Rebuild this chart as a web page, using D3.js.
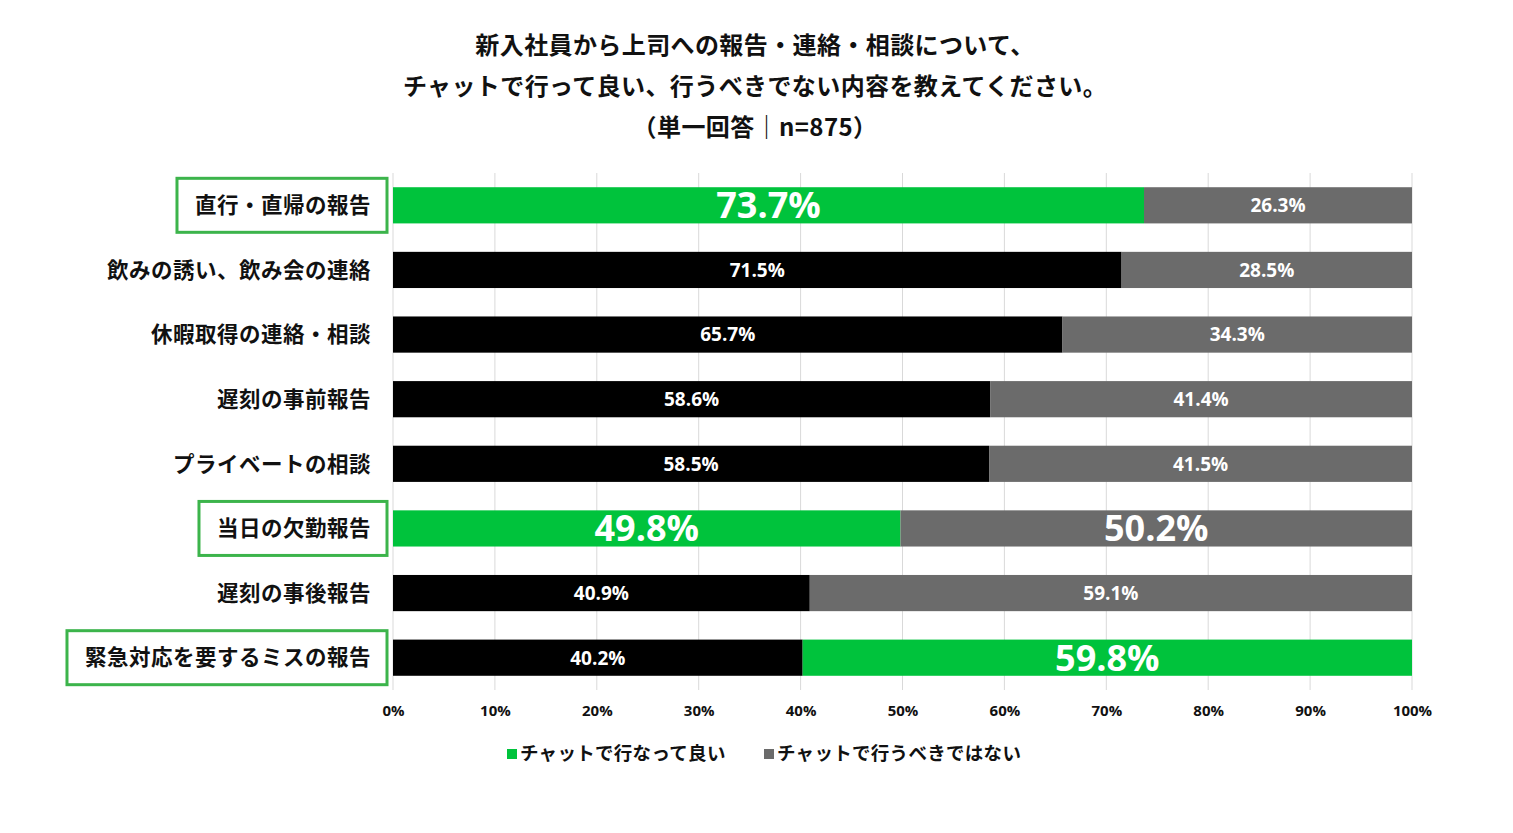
<!DOCTYPE html>
<html>
<head>
<meta charset="utf-8">
<script src="https://cdn.jsdelivr.net/npm/d3@7"></script>
<style>
  body { margin: 0; background: #fff; }
  svg { display: block; }
</style>
</head>
<body>
<div id="chart"></div>
<script>
// data
const categories = [
  "直行・直帰の報告",
  "飲みの誘い、飲み会の連絡",
  "休暇取得の連絡・相談",
  "遅刻の事前報告",
  "プライベートの相談",
  "当日の欠勤報告",
  "遅刻の事後報告",
  "緊急対応を要するミスの報告"
];
const goodValues = [73.7, 71.5, 65.7, 58.6, 58.5, 49.8, 40.9, 40.2];
const notValues  = [26.3, 28.5, 34.3, 41.4, 41.5, 50.2, 59.1, 59.8];
// which segment is emphasised (green / big label): "good", "not", "both", or ""
const highlight = ["good", "", "", "", "", "both", "", "not"];
const boxed     = [true, false, false, false, false, true, false, true];
const seriesNames = ["チャットで行なって良い", "チャットで行うべきではない"];
const xTicks = [0, 10, 20, 30, 40, 50, 60, 70, 80, 90, 100];
const titleLines = [
  "新入社員から上司への報告・連絡・相談について、",
  "チャットで行って良い、行うべきでない内容を教えてください。",
  "（単一回答｜n=875）"
];

const W = 1513, H = 833;
const margin = { top: 173, left: 393, right: 101, bottom: 143 };
const GREEN = "#00c33c", GRAY = "#6b6b6b", BLACK = "#000000";
const jp = "'Noto Sans CJK JP', 'Noto Sans', sans-serif";
const num = "'Liberation Sans Narrow', 'Open Sans', 'Noto Sans CJK JP', sans-serif";

const svg = d3.select("#chart").append("svg")
  .attr("width", W).attr("height", H);

// title
svg.append("g").selectAll("text")
  .data(titleLines).enter().append("text")
  .attr("x", 755)
  .attr("y", (d, i) => 54 + i * 41)
  .attr("text-anchor", "middle")
  .attr("font-family", jp)
  .attr("font-weight", "bold")
  .attr("font-size", 24)
  .attr("letter-spacing", 0.4)
  .attr("fill", "#111")
  .text(d => d);

const x = d3.scaleLinear().domain([0, 100]).range([margin.left, W - margin.right]);
const y = d3.scaleBand().domain(categories)
  .range([margin.top, H - margin.bottom]).paddingInner(0.44).paddingOuter(0.22);

// gridlines
svg.append("g").selectAll("line")
  .data(xTicks).enter().append("line")
  .attr("x1", d => x(d)).attr("x2", d => x(d))
  .attr("y1", margin.top).attr("y2", H - margin.bottom)
  .attr("stroke", "#d9d9d9").attr("stroke-width", 1);

// x axis labels
const xAxis = d3.axisBottom(x).tickValues(xTicks).tickSize(0).tickPadding(15)
  .tickFormat(d => d + "%");
svg.append("g")
  .attr("transform", `translate(0,${H - margin.bottom})`)
  .call(xAxis)
  .call(g => g.select(".domain").remove())
  .selectAll("text")
  .attr("font-family", num)
  .attr("font-weight", "bold")
  .attr("font-size", 15)
  .attr("fill", "#111");

// bars
const rows = svg.append("g").selectAll("g")
  .data(categories).enter().append("g")
  .attr("transform", d => `translate(0,${y(d)})`);

rows.append("rect")
  .attr("x", x(0))
  .attr("width", (d, i) => x(goodValues[i]) - x(0))
  .attr("height", y.bandwidth())
  .attr("fill", (d, i) => (highlight[i] === "good" || highlight[i] === "both") ? GREEN : BLACK);

rows.append("rect")
  .attr("x", (d, i) => x(goodValues[i]))
  .attr("width", (d, i) => x(100) - x(goodValues[i]))
  .attr("height", y.bandwidth())
  .attr("fill", (d, i) => highlight[i] === "not" ? GREEN : GRAY);

const big = (i, s) => highlight[i] === "both" || highlight[i] === s;

rows.append("text")
  .attr("x", (d, i) => (x(0) + x(goodValues[i])) / 2)
  .attr("y", y.bandwidth() / 2)
  .attr("dy", "0.36em")
  .attr("text-anchor", "middle")
  .attr("font-family", num)
  .attr("font-weight", "bold")
  .attr("font-size", (d, i) => big(i, "good") ? 36 : 19)
  .attr("fill", "#fff")
  .text((d, i) => goodValues[i].toFixed(1) + "%");

rows.append("text")
  .attr("x", (d, i) => (x(goodValues[i]) + x(100)) / 2)
  .attr("y", y.bandwidth() / 2)
  .attr("dy", "0.36em")
  .attr("text-anchor", "middle")
  .attr("font-family", num)
  .attr("font-weight", "bold")
  .attr("font-size", (d, i) => big(i, "not") ? 36 : 19)
  .attr("fill", "#fff")
  .text((d, i) => notValues[i].toFixed(1) + "%");

// category labels
const labels = rows.append("text")
  .attr("x", margin.left - 22)
  .attr("y", y.bandwidth() / 2)
  .attr("dy", "0.36em")
  .attr("text-anchor", "end")
  .attr("font-family", jp)
  .attr("font-weight", "bold")
  .attr("font-size", 21.5)
  .attr("letter-spacing", 0.5)
  .attr("fill", "#111")
  .text(d => d);

// green boxes round highlighted labels
labels.each(function (d, i) {
  if (!boxed[i]) return;
  const bb = this.getBBox();
  d3.select(this.parentNode).insert("rect", "text")
    .attr("x", bb.x - 18)
    .attr("y", y.bandwidth() / 2 - 27)
    .attr("width", margin.left - 6 - (bb.x - 18))
    .attr("height", 54)
    .attr("fill", "#fff")
    .attr("stroke", "#3cb44b")
    .attr("stroke-width", 3);
});

// legend
const legend = svg.append("g").attr("transform", `translate(0,753)`);
const legendX = [507, 764];
const legendColor = [GREEN, GRAY];
seriesNames.forEach((name, i) => {
  legend.append("rect")
    .attr("x", legendX[i]).attr("y", -4)
    .attr("width", 10).attr("height", 10)
    .attr("fill", legendColor[i]);
  legend.append("text")
    .attr("x", legendX[i] + 13).attr("y", 0)
    .attr("dy", "0.36em")
    .attr("font-family", jp)
    .attr("font-weight", "bold")
    .attr("font-size", 18.5)
    .attr("letter-spacing", 0.3)
    .attr("fill", "#111")
    .text(name);
});
</script>
</body>
</html>
